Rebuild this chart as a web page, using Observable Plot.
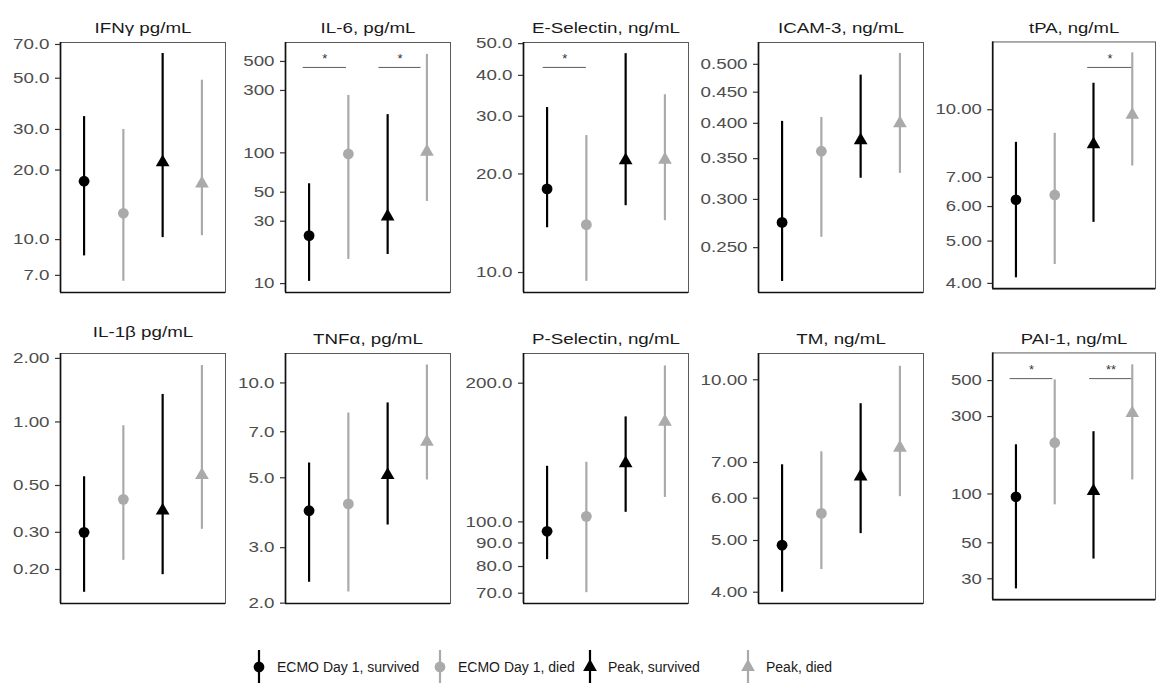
<!DOCTYPE html>
<html>
<head>
<meta charset="utf-8">
<script src="https://cdn.jsdelivr.net/npm/d3@7"></script>
<script src="https://cdn.jsdelivr.net/npm/@observablehq/plot@0.6"></script>
<style>
  html, body { margin: 0; padding: 0; background: #fff; }
  #root { position: relative; width: 1158px; height: 683px; overflow: hidden; font-family: "Liberation Sans", Arial, sans-serif; }
  .panel { position: absolute; }
  .legend-item { position: absolute; top: 650px; height: 34px; display: flex; align-items: center; font-size: 14px; color: #1a1a1a; white-space: nowrap; }
  .legend-item svg { display: block; }
</style>
</head>
<body>
<div id="root"></div>
<script>
// ---------- data ----------
const titles = ["IFNγ pg/mL", "IL-6, pg/mL", "E-Selectin, ng/mL", "ICAM-3, ng/mL", "tPA, ng/mL",
                "IL-1β pg/mL", "TNFα, pg/mL", "P-Selectin, ng/mL", "TM, ng/mL", "PAI-1, ng/mL"];
const groups = ["ECMO Day 1, survived", "ECMO Day 1, died", "Peak, survived", "Peak, died"];
const groupColors = ["#000000", "#aaaaaa", "#000000", "#aaaaaa"];
const groupSymbols = ["circle", "circle", "triangle", "triangle"];

// medians (points) per panel, in group order
const medians = [
  [17.9, 13.0, 21.6, 17.5],
  [23.3, 98, 32.6, 102],
  [18.0, 14.0, 22.0, 22.1],
  [0.275, 0.360, 0.375, 0.400],
  [6.22, 6.38, 8.33, 9.74],
  [0.30, 0.43, 0.38, 0.56],
  [3.93, 4.13, 5.1, 6.5],
  [95.4, 102.8, 134, 165],
  [4.90, 5.62, 6.59, 7.46],
  [96, 207, 104, 315]
];
// lower ends of the ranges
const lowers = [
  [8.5, 6.6, 10.2, 10.4],
  [10.4, 15.3, 16.7, 42.5],
  [13.7, 9.4, 16.0, 14.4],
  [0.220, 0.260, 0.325, 0.331],
  [4.12, 4.42, 5.52, 7.43],
  [0.156, 0.221, 0.189, 0.31],
  [2.33, 2.17, 3.54, 4.92],
  [82.8, 70.2, 104.9, 113],
  [4.0, 4.41, 5.15, 6.04],
  [26, 85.7, 39.7, 122]
];
// upper ends of the ranges
const uppers = [
  [34.1, 30.0, 64, 49],
  [58, 275, 196, 566],
  [31.9, 26.2, 46.6, 34.9],
  [0.403, 0.409, 0.480, 0.521],
  [8.42, 8.83, 11.5, 13.5],
  [0.55, 0.96, 1.35, 1.85],
  [5.57, 8.03, 8.64, 11.4],
  [132, 134.7, 169, 218],
  [6.93, 7.33, 9.02, 10.6],
  [201, 505, 242, 625]
];
// y-axis domains (log)
const yDomains = [
  [5.9, 71.4], [8.55, 698], [8.69, 50.4], [0.211, 0.543], [3.89, 14.3],
  [0.138, 2.11], [1.995, 12.4], [66.5, 232], [3.81, 11.2], [22.3, 740]
];
// tick labels
const yTicks = [
  [7, 10, 20, 30, 50, 70],
  [10, 30, 50, 100, 300, 500],
  [10, 20, 30, 40, 50],
  [0.25, 0.3, 0.35, 0.4, 0.45, 0.5],
  [4, 5, 6, 7, 10],
  [0.2, 0.3, 0.5, 1, 2],
  [2, 3, 5, 7, 10],
  [70, 80, 90, 100, 200],
  [4, 5, 6, 7, 10],
  [30, 50, 100, 300, 500]
];
const tickDecimals = [1, 0, 1, 3, 2, 2, 1, 1, 2, 0];
// significance brackets: [panel, from, to, level, label]
const brackets = [
  [1, 0.85, 1.95, 450, "*"],
  [1, 2.78, 3.85, 450, "*"],
  [2, 0.9, 2.0, 42.3, "*"],
  [4, 2.85, 4.0, 12.5, "*"],
  [9, 0.85, 1.95, 514, "*"],
  [9, 2.9, 4.0, 514, "**"]
];

// ---------- layout ----------
const colLeft = [60, 285, 523, 758, 993];
const rowTop = [42, 353];
const frameW = 165, frameH = 250;
const mL = 62, mT = 42, mR = 3, mB = 6;
const titleOffset = [-20, -20, -20, -20, -20, -27, -20, -20, -20, -20];
const stretch = 1.25;

const root = document.getElementById("root");

titles.forEach((title, i) => {
  const col = i % 5, row = Math.floor(i / 5);
  const data = groups.map((g, j) => ({pos: j + 1, group: g, med: medians[i][j], lo: lowers[i][j], hi: uppers[i][j]}));
  const br = brackets.filter(b => b[0] === i).map(b => ({x1: b[1], x2: b[2], y: b[3], label: b[4]}));
  const fmt = d => d.toFixed(tickDecimals[i]);

  const chart = Plot.plot({
    width: mL + frameW + mR,
    height: mT + frameH + mB,
    marginLeft: mL, marginRight: mR, marginTop: mT, marginBottom: mB,
    style: {fontFamily: '"Liberation Sans", Arial, sans-serif', fontSize: "15px", background: "transparent", overflow: "visible"},
    x: {type: "linear", domain: [0.4, 4.6], axis: null},
    y: {type: "log", domain: yDomains[i], axis: null},
    marks: [
      Plot.frame({stroke: "#5a5a5a", strokeWidth: 1}),
      Plot.ruleX([0.4], {stroke: "#111", strokeWidth: 1.7}),
      Plot.ruleY([yDomains[i][0]], {stroke: "#111", strokeWidth: 1.7}),
      Plot.axisY({ticks: yTicks[i], tickFormat: fmt, tickSize: 5, tickPadding: 6, fontSize: 15,
                  fill: "#4d4d4d", stroke: "#333", strokeWidth: 1.2, label: null}),
      Plot.ruleY(br, {x1: "x1", x2: "x2", y: "y", stroke: "#5a5a5a", strokeWidth: 1}),
      Plot.text(br, {x: d => (d.x1 + d.x2) / 2, y: "y", text: "label", dy: -9, fontSize: 13, fill: "#333"}),
      Plot.ruleX(data, {x: "pos", y1: "lo", y2: "hi", stroke: d => groupColors[d.pos - 1], strokeWidth: 2.2}),
      Plot.dot(data.filter(d => groupSymbols[d.pos - 1] === "circle"),
               {x: "pos", y: "med", symbol: "circle", r: 5.4, fill: d => groupColors[d.pos - 1], stroke: "none"}),
      Plot.dot(data.filter(d => groupSymbols[d.pos - 1] === "triangle"),
               {x: "pos", y: "med", symbol: "triangle", r: 5.1, fill: d => groupColors[d.pos - 1], stroke: "none"}),
      Plot.text([title], {frameAnchor: "top", dy: titleOffset[i], fontSize: 15, fill: "#1a1a1a"})
    ]
  });
  const wrap = document.createElement("div");
  wrap.className = "panel";
  wrap.style.left = (colLeft[col] - mL) + "px";
  wrap.style.top = (rowTop[row] - mT) + "px";
  wrap.appendChild(chart);
  root.appendChild(wrap);
  // the reference's panel text is horizontally wide: stretch glyphs
  chart.querySelectorAll("text").forEach(t => {
    if (/^\*+$/.test(t.textContent.trim())) return;
    const L = t.getComputedTextLength();
    if (L > 0) {
      t.setAttribute("textLength", (L * stretch).toFixed(2));
      t.setAttribute("lengthAdjust", "spacingAndGlyphs");
    }
  });
});

// ---------- legend ----------
const legendKeyX = [259, 440, 590, 748];
groups.forEach((g, j) => {
  const item = document.createElement("div");
  item.className = "legend-item";
  item.style.left = (legendKeyX[j] - 9) + "px";
  const svg = d3.create("svg").attr("width", 18).attr("height", 34);
  svg.append("line").attr("x1", 9).attr("x2", 9).attr("y1", 0).attr("y2", 34)
    .attr("stroke", groupColors[j]).attr("stroke-width", 2.2);
  const sym = groupSymbols[j] === "circle" ? d3.symbolCircle : d3.symbolTriangle;
  const rr = groupSymbols[j] === "circle" ? 5.4 : 5.1;
  svg.append("path").attr("d", d3.symbol(sym, Math.PI * rr * rr)())
    .attr("transform", "translate(9,17)").attr("fill", groupColors[j]);
  item.appendChild(svg.node());
  const label = document.createElement("span");
  label.textContent = g;
  label.style.marginLeft = "9px";
  item.appendChild(label);
  root.appendChild(item);
});
</script>
</body>
</html>
